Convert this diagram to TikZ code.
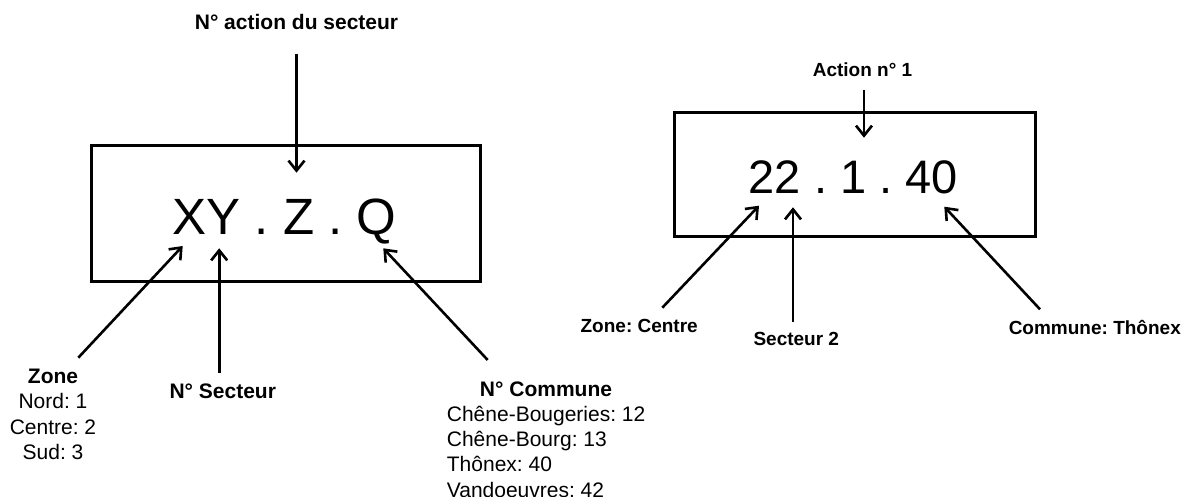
\documentclass[tikz,border=0pt]{standalone}
\usepackage{fontspec}
\setmainfont{Liberation Sans}
\frenchspacing
\usetikzlibrary{arrows.meta}

\tikzset{
  codebox/.style={draw,line width=3pt,inner sep=0pt},
  pointer/.style={line width=2.6pt,-{Straight Barb[length=10pt,width=16pt]}},
  lbl/.style={inner sep=0pt,anchor=base,font=\fontsize{21}{25.3}\selectfont\bfseries},
  lblR/.style={inner sep=0pt,anchor=base,font=\fontsize{19}{23}\selectfont\bfseries},
  lst/.style={inner sep=0pt,anchor=base,font=\fontsize{21}{25.3}\selectfont},
}

\begin{document}
\begin{tikzpicture}[x=1pt,y=-1pt]
    \useasboundingbox (0,0) rectangle (1184,497);

    % general scheme
    \node[codebox,minimum width=389pt,minimum height=136pt] (boxL) at (286.3,213.9) {};
    \node[inner sep=0pt,anchor=base,font=\fontsize{51}{60}\selectfont] (codeL) at (284.7,234.3) {XY . Z . Q};

    % multi-line nodes: base is the last line
    \node[lbl] (actL) at (296.5,29.3) {N° action du secteur};
    \node[lst,align=center] (zoneL) at (53,459.3) {\textbf{Zone}\\Nord: 1\\Centre: 2\\Sud: 3};
    \node[lbl] (sectL) at (222.8,398.7) {N° Secteur};
    \node[lbl] (comL) at (546,396.7) {N° Commune};
    \node[lst,align=left,anchor=base west] (listL) at (446.7,497)
        {Chêne-Bougeries: 12\\Chêne-Bourg: 13\\Thônex: 40\\Vandoeuvres: 42};

    \coordinate (actTipL) at (296.5,172.7);
    \coordinate (zoneTipL) at (182.7,246);
    \coordinate (zoneFromL) at (78.3,357.7);
    \coordinate (sectTipL) at (219.2,248.3);
    \coordinate (comTipL) at (383.3,248.3);
    \coordinate (comFromL) at (487.7,360);

    \draw[pointer,shorten <=24pt] (actL) -- (actTipL);
    \draw[pointer] (zoneFromL) -- (zoneTipL);
    \draw[pointer,shorten <=11pt] (sectL.north -| sectTipL) -- (sectTipL);
    \draw[pointer] (comFromL) -- (comTipL);

    % example
    \node[codebox,minimum width=360.7pt,minimum height=124.4pt] (boxR) at (854.7,174.5) {};
    \node[inner sep=0pt,anchor=base,font=\fontsize{47}{56}\selectfont] (codeR) at (853.3,194) {22 . 1 . 40};

    \node[lblR] (actR) at (862.5,76.5) {Action n° 1};
    \node[lblR] (zoneR) at (639.2,332.3) {Zone: Centre};
    \node[lblR] (sectR) at (796.3,345) {Secteur 2};
    \node[lblR] (comR) at (1094.8,334.3) {Commune: Thônex};

    \coordinate (actTipR) at (864,137.7);
    \coordinate (zoneTipR) at (759,205.7);
    \coordinate (zoneFromR) at (662.3,307.7);
    \coordinate (sectTipR) at (793,207.3);
    \coordinate (comTipR) at (944.3,206.7);
    \coordinate (comFromR) at (1040,309.3);

    \draw[pointer,shorten <=13.5pt] (actR.south -| actTipR) -- (actTipR);
    \draw[pointer] (zoneFromR) -- (zoneTipR);
    \draw[pointer,shorten <=10pt] (sectR.north -| sectTipR) -- (sectTipR);
    \draw[pointer] (comFromR) -- (comTipR);
\end{tikzpicture}
\end{document}
